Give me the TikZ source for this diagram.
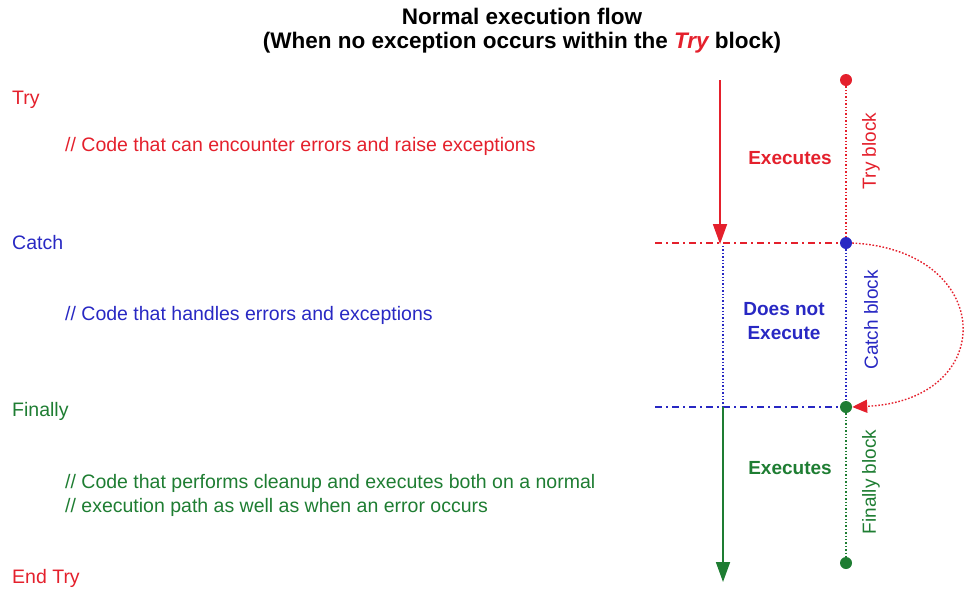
\documentclass[tikz,border=0pt]{standalone}
\usepackage{fontspec}
\setmainfont{Liberation Sans}
\usetikzlibrary{arrows.meta}
\definecolor{cred}{RGB}{228,32,44}
\definecolor{cblue}{RGB}{40,40,195}
\definecolor{cgreen}{RGB}{30,125,50}
\begin{document}
\begin{tikzpicture}[x=1pt,y=-1pt,
  txt/.style={anchor=west,inner sep=0pt,font=\fontsize{19.5}{24}\selectfont},
  lbl/.style={inner sep=0pt,font=\bfseries\fontsize{19}{24}\selectfont,align=center},
  rlbl/.style={inner sep=0pt,rotate=90,font=\fontsize{19}{24}\selectfont},
  dotnode/.style={circle,inner sep=0pt,minimum size=12pt},
  dotline/.style={line width=1.4pt,dash pattern=on 1.4pt off 2pt},
  dashdot/.style={line width=1.5pt,dash pattern=on 7pt off 4pt on 2pt off 4pt},
  flow/.style={line width=1.8pt,-{Triangle[length=20pt,width=14pt]}}]
\useasboundingbox (0,0) rectangle (965,590);
% title
\node[inner sep=0pt,font=\bfseries\fontsize{22.5}{24}\selectfont,align=center] (title) at (522,31)
  {Normal execution flow\\(When no exception occurs within the \textcolor{cred}{\itshape Try} block)};
% code text
\node[txt,text=cred] (try) at (12,100) {Try};
\node[txt,text=cred] (trycode) at (65,146) {// Code that can encounter errors and raise exceptions};
\node[txt,text=cblue] (catch) at (12,243) {Catch};
\node[txt,text=cblue] (catchcode) at (65,315) {// Code that handles errors and exceptions};
\node[txt,text=cgreen] (finally) at (12,411) {Finally};
\node[txt,text=cgreen] (fincode1) at (65,483) {// Code that performs cleanup and executes both on a normal};
\node[txt,text=cgreen] (fincode2) at (65,507) {// execution path as well as when an error occurs};
\node[txt,text=cred] (endtry) at (12,578) {End Try};
% coordinates
\coordinate (rl) at (655,243);
\coordinate (bl) at (655,407);
\coordinate (rs) at (720,80);
\coordinate (re) at (720,244);
\coordinate (bs) at (723,246);
\coordinate (be) at (723,407);
\coordinate (gs) at (723,407);
\coordinate (ge) at (723,582);
% horizontal dash-dot lines
\draw[dashdot,cred] (rl) -- (840,243);
\draw[dashdot,cblue] (bl) -- (840,407);
% dots
\node[dotnode,fill=cred] (tdot) at (846,80) {};
\node[dotnode,fill=cblue] (cdot) at (846,243) {};
\node[dotnode,fill=cgreen] (fdot) at (846,407) {};
\node[dotnode,fill=cgreen] (edot) at (846,563) {};
% vertical dotted lines
\draw[dotline,cred] (tdot) -- (cdot);
\draw[dotline,cblue] (cdot) -- (fdot);
\draw[dotline,cgreen] (fdot) -- (edot);
\draw[dotline,cblue] (bs) -- (be);
% flow arrows
\draw[flow,cred] (rs) -- (re);
\draw[flow,cgreen] (gs) -- (ge);
% jump arrow
\draw[cred,line width=1.4pt,dash pattern=on 1.6pt off 1.8pt,-{Triangle[length=15pt,width=13pt]}]
  (cdot.east) .. controls (995,250) and (1000,400) .. (fdot.east);
% labels
\node[lbl,text=cred] (ex1) at (790,158) {Executes};
\node[lbl,text=cblue,align=center] (dne) at (784,321) {Does not\\Execute};
\node[lbl,text=cgreen] (ex2) at (790,468) {Executes};
\node[rlbl,text=cred] (tb) at (871,151) {Try block};
\node[rlbl,text=cblue] (cb) at (871,320) {Catch block};
\node[rlbl,text=cgreen] (fb) at (871,482) {Finally block};
\end{tikzpicture}
\end{document}
